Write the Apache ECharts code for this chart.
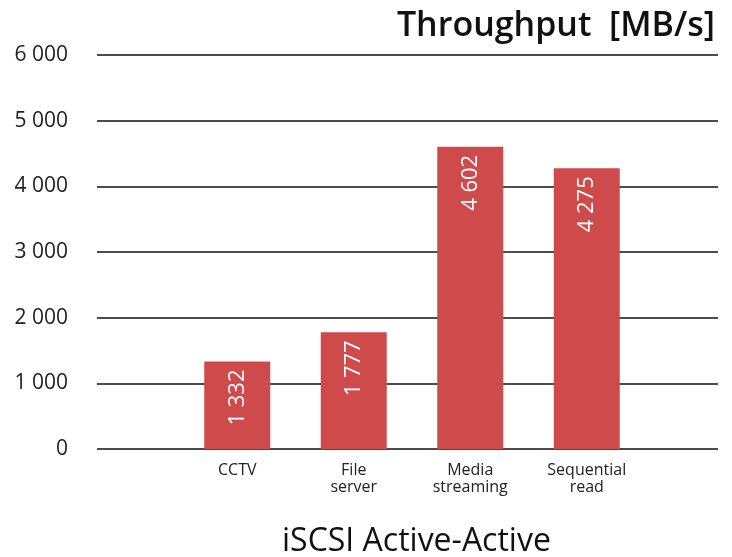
<!DOCTYPE html>
<html><head><meta charset="utf-8">
<script src="https://cdn.jsdelivr.net/npm/echarts@6/dist/echarts.min.js"></script>
<style>html,body{margin:0;padding:0;background:#fff}#c{width:732px;height:557px}</style>
</head><body><div id="c"></div>
<script>
const categories = ['CCTV', 'File\nserver', 'Media\nstreaming', 'Sequential\nread'];
const throughput = [1332, 1777, 4602, 4275];
const yTicks = [0, 1000, 2000, 3000, 4000, 5000, 6000];

const FONT = '"Open Sans", "Noto Sans", sans-serif';
const fmt = v => String(v).replace(/\B(?=(\d{3})+(?!\d))/g, ' ');

const chart = echarts.init(document.getElementById('c'));
chart.setOption({
  animation: false,
  title: [
    { text: 'Throughput  [MB/s]', right: 12, top: 4,
      textStyle: { fontFamily: FONT, fontSize: 34, fontWeight: 600, color: '#111' } },
    { text: 'iSCSI Active-Active', left: 277, top: 521,
      textStyle: { fontFamily: FONT, fontSize: 32, fontWeight: 'normal', color: '#111' } }
  ],
  grid: [
    { left: 97, right: 14, top: 55, bottom: 108 },
    { left: 179, right: 87, top: 55, bottom: 108 }
  ],
  xAxis: [
    { type: 'value', gridIndex: 0, min: 0, max: 1, show: false },
    { type: 'category', gridIndex: 1, data: categories,
      axisLine: { show: false }, axisTick: { show: false },
      axisLabel: { fontFamily: FONT, fontSize: 16, color: '#222', lineHeight: 17, margin: 13 } }
  ],
  yAxis: [
    { type: 'value', gridIndex: 0, min: yTicks[0], max: yTicks[yTicks.length - 1], interval: 1000,
      axisLine: { show: false }, axisTick: { show: false },
      splitLine: { lineStyle: { color: '#111', width: 1.5 } },
      axisLabel: { fontFamily: FONT, fontSize: 21, color: '#222', margin: 29, formatter: v => fmt(v) } },
    { type: 'value', gridIndex: 1, min: yTicks[0], max: yTicks[yTicks.length - 1], interval: 1000,
      show: false }
  ],
  series: [{
    type: 'bar', xAxisIndex: 1, yAxisIndex: 1, data: throughput,
    barWidth: 66,
    itemStyle: { color: '#cf4a4b' },
    label: { show: true, position: 'insideTop', rotate: 90, align: 'right', verticalAlign: 'middle',
      distance: 8, color: '#fff', fontFamily: FONT, fontSize: 22, formatter: p => fmt(p.value) }
  }]
});
</script></body></html>
